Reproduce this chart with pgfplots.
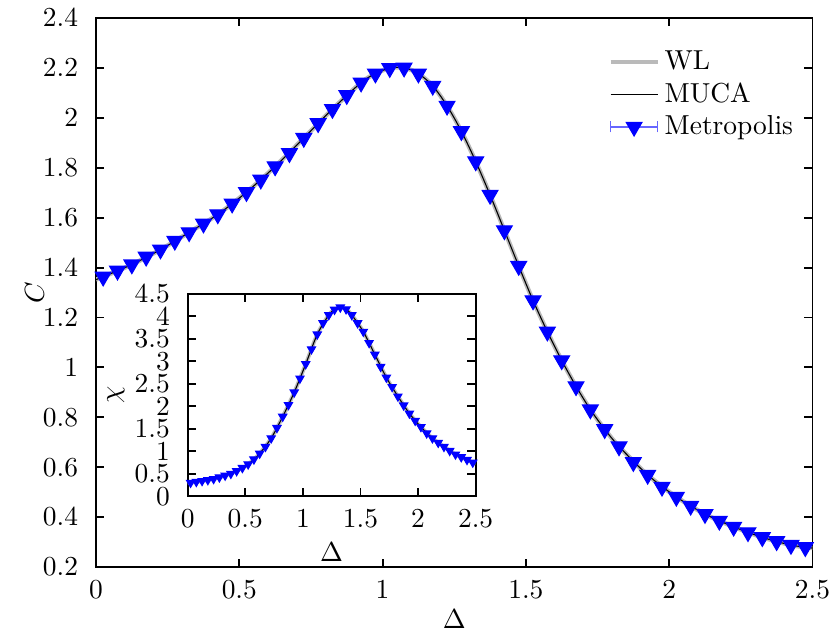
\documentclass[border=0pt]{standalone}
\usepackage{pgfplots}
\usepackage{pgfplotstable}
\pgfplotsset{compat=1.18}

% specific heat C(Delta), main panel
\pgfplotstableread{
D C
0.025 1.363
0.075 1.387
0.125 1.412
0.175 1.443
0.225 1.472
0.275 1.507
0.325 1.541
0.375 1.576
0.425 1.613
0.475 1.656
0.525 1.702
0.575 1.752
0.625 1.805
0.675 1.858
0.725 1.919
0.775 1.978
0.825 2.035
0.875 2.091
0.925 2.141
0.975 2.177
1.025 2.199
1.075 2.201
1.125 2.177
1.175 2.128
1.225 2.048
1.275 1.946
1.325 1.825
1.375 1.691
1.425 1.549
1.475 1.406
1.525 1.268
1.575 1.143
1.625 1.028
1.675 0.924
1.725 0.831
1.775 0.752
1.825 0.683
1.875 0.620
1.925 0.569
1.975 0.521
2.025 0.481
2.075 0.445
2.125 0.412
2.175 0.385
2.225 0.361
2.275 0.339
2.325 0.319
2.375 0.303
2.425 0.288
2.475 0.279
}\metroC

\pgfplotstableread{
D C
0.000 1.352
0.025 1.363
0.125 1.412
0.225 1.472
0.325 1.541
0.425 1.613
0.525 1.702
0.625 1.805
0.725 1.919
0.825 2.035
0.925 2.141
0.975 2.177
1.025 2.199
1.075 2.201
1.125 2.177
1.175 2.128
1.225 2.048
1.275 1.946
1.325 1.825
1.375 1.691
1.425 1.549
1.475 1.406
1.525 1.268
1.575 1.143
1.625 1.028
1.675 0.924
1.725 0.831
1.775 0.752
1.825 0.683
1.925 0.569
2.025 0.481
2.125 0.412
2.225 0.361
2.325 0.319
2.425 0.288
2.500 0.276
}\lineC

% susceptibility chi(Delta), inset
\pgfplotstableread{
D X
0.025 0.30
0.075 0.32
0.125 0.34
0.175 0.36
0.225 0.385
0.275 0.42
0.325 0.46
0.375 0.50
0.425 0.56
0.475 0.63
0.525 0.71
0.575 0.82
0.625 0.95
0.675 1.10
0.725 1.29
0.775 1.52
0.825 1.77
0.875 2.03
0.925 2.31
0.975 2.62
1.025 2.94
1.075 3.27
1.125 3.60
1.175 3.85
1.225 4.03
1.275 4.15
1.325 4.20
1.375 4.16
1.425 4.03
1.475 3.85
1.525 3.66
1.575 3.41
1.625 3.15
1.675 2.88
1.725 2.64
1.775 2.43
1.825 2.22
1.875 2.02
1.925 1.84
1.975 1.68
2.025 1.54
2.075 1.40
2.125 1.29
2.175 1.19
2.225 1.10
2.275 1.01
2.325 0.93
2.375 0.87
2.425 0.81
2.475 0.75
}\metroX

\pgfplotstableread{
D X
0.000 0.29
0.025 0.30
0.125 0.34
0.225 0.385
0.325 0.46
0.425 0.56
0.525 0.71
0.625 0.95
0.725 1.29
0.825 1.77
0.925 2.31
1.025 2.94
1.125 3.60
1.225 4.03
1.275 4.15
1.325 4.20
1.375 4.16
1.425 4.03
1.525 3.66
1.625 3.15
1.725 2.64
1.825 2.22
1.925 1.84
2.025 1.54
2.125 1.29
2.225 1.10
2.325 0.93
2.425 0.81
2.500 0.72
}\lineX

\pgfplotsset{
  gp/.style={
    scale only axis,
    axis line style={line width=0.7pt},
    every tick/.style={black, line width=0.7pt},
    major tick length=3pt,
    tick align=inside,
    xmin=0, xmax=2.5,
    xtick={0,0.5,1,1.5,2,2.5},
    xticklabel style={yshift=-1.5pt, inner xsep=0pt},
    yticklabel style={xshift=-3pt},
  },
  metro/.style={
    only marks, blue,
    mark=triangle*,
    mark options={rotate=180, fill=blue, draw=blue},
  },
}

\begin{document}
\begin{tikzpicture}
\begin{axis}[
  gp,
  width=261pt, height=200pt,
  ymin=0.2, ymax=2.4,
  ytick={0.2,0.4,0.6,0.8,1,1.2,1.4,1.6,1.8,2,2.2,2.4},
  xlabel={$\Delta$},
  ylabel={$C$},
  xlabel style={at={(axis description cs:0.5,-0.094)}, anchor=center},
  ylabel style={at={(axis description cs:-0.086,0.5)}, anchor=center},
  extra description/.code={\path (axis description cs:-0.134,0.5);},
  legend cell align=left,
  legend style={at={(0.703,0.96)}, anchor=north west, draw=none, fill=none,
    nodes={inner sep=1.8pt, text height=1.6ex, text depth=0.3ex}},
]
\addplot[color=black!27, line width=1.6pt, smooth] table[x=D, y=C] {\lineC};
\addlegendentry{WL}
\addplot[color=black, line width=0.4pt, smooth] table[x=D, y=C] {\lineC};
\addlegendentry{MUCA}
\addplot[metro, mark size=3.3pt,
  legend image code/.code={
    \draw[blue!60, line width=0.5pt] (0cm,0cm) -- (0.6cm,0cm);
    \draw[blue!60, line width=0.5pt] (0cm,-2pt) -- (0cm,2pt) (0.6cm,-2pt) -- (0.6cm,2pt);
    \draw plot[only marks, mark repeat=2, mark phase=2] coordinates {(0cm,0cm) (0.3cm,0cm) (0.6cm,0cm)};
  }] table[x=D, y=C] {\metroC};
\addlegendentry{Metropolis}
\end{axis}

\begin{axis}[
  gp,
  at={(33.4pt,25.8pt)}, anchor=south west,
  width=104.9pt, height=73.7pt,
  ymin=0, ymax=4.5,
  ytick={0,0.5,1,1.5,2,2.5,3,3.5,4,4.5},
  xlabel={$\Delta$},
  ylabel={$\chi$},
  xlabel style={at={(axis description cs:0.5,-0.276)}, anchor=center},
  ylabel style={at={(axis description cs:-0.249,0.5)}, anchor=center},
  axis background/.style={fill=white},
]
\addplot[color=black!27, line width=1.4pt, smooth] table[x=D, y=X] {\lineX};
\addplot[color=black, line width=0.4pt, smooth] table[x=D, y=X] {\lineX};
\addplot[metro, mark size=1.7pt] table[x=D, y=X] {\metroX};
\end{axis}
\end{tikzpicture}
\end{document}
